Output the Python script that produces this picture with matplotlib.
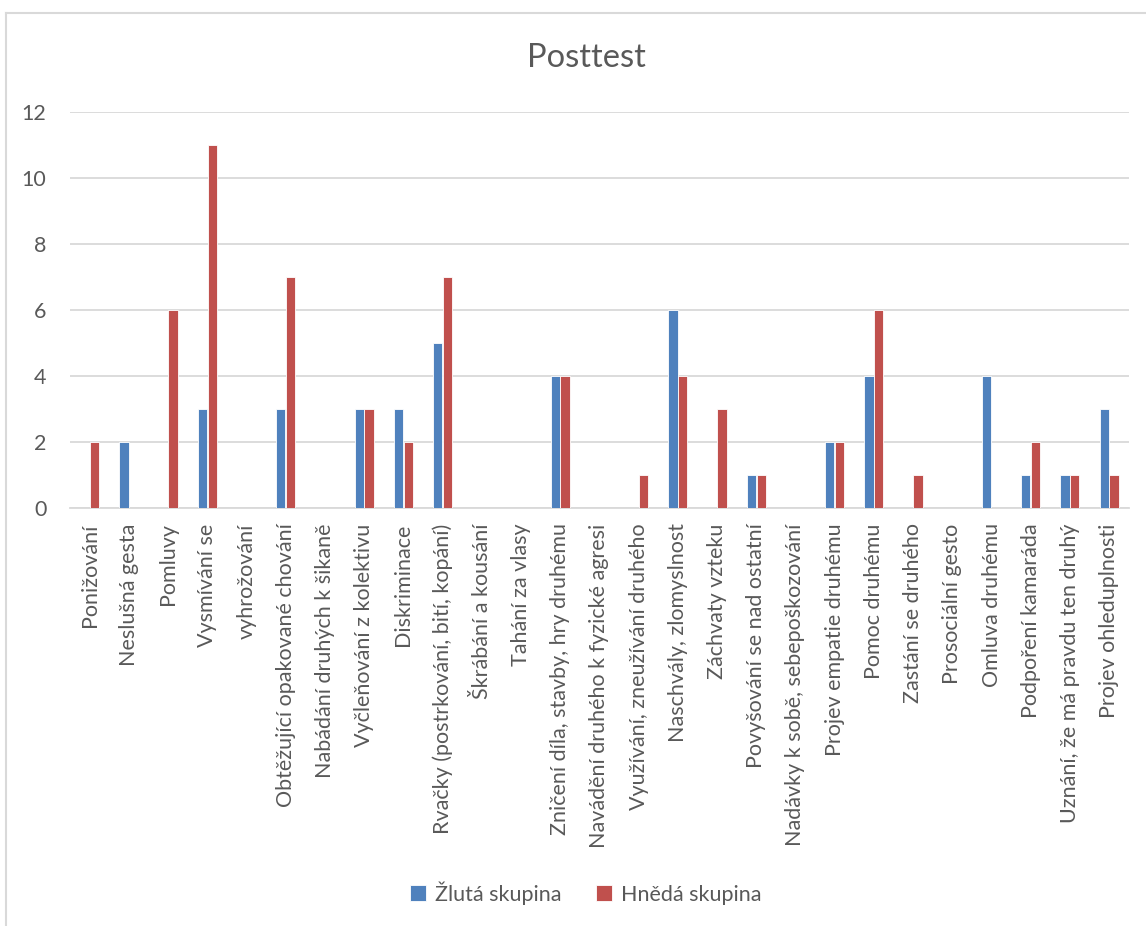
import numpy as np
import matplotlib.pyplot as plt
from matplotlib.lines import Line2D

plt.rcParams['font.family'] = ['Lato', 'DejaVu Sans']

categories = [
    "Ponižování", "Neslušná gesta", "Pomluvy", "Vysmívání se", "vyhrožování",
    "Obtěžující opakované chování", "Nabádání druhých k šikaně",
    "Vyčleňování z kolektivu", "Diskriminace",
    "Rvačky (postrkování, bití, kopání)", "Škrábání a kousání",
    "Tahání za vlasy", "Zničení díla, stavby, hry druhému",
    "Navádění druhého k fyzické agresi", "Využívání, zneužívání druhého",
    "Naschvály, zlomyslnost", "Záchvaty vzteku", "Povyšování se nad ostatní",
    "Nadávky k sobě, sebepoškozování", "Projev empatie druhému",
    "Pomoc druhému", "Zastání se druhého", "Prosociální gesto",
    "Omluva druhému", "Podpoření kamaráda", "Uznání, že má pravdu ten druhý",
    "Projev ohleduplnosti",
]
zluta = [0, 2, 0, 3, 0, 3, 0, 3, 3, 5, 0, 0, 4, 0, 0, 6, 0, 1, 0, 2, 4, 0, 0, 4, 1, 1, 3]
hneda = [2, 0, 6, 11, 0, 7, 0, 3, 2, 7, 0, 0, 4, 0, 1, 4, 3, 1, 0, 2, 6, 1, 0, 0, 2, 1, 1]
series_names = ["Žlutá skupina", "Hnědá skupina"]

text_col = "#595959"
grid_col = "#D9D9D9"

fig = plt.figure(figsize=(11.46, 9.26), dpi=100)
ax = fig.add_axes([0.0611, 0.4514, 0.9239, 0.4277])

x = np.arange(len(categories))
w = 0.235
ax.bar(x - 0.125, zluta, width=w, color="#4F81BD", edgecolor="white",
       linewidth=0.6, label=series_names[0], zorder=3)
ax.bar(x + 0.125, hneda, width=w, color="#C0504D", edgecolor="white",
       linewidth=0.6, label=series_names[1], zorder=3)

ax.set_xlim(-0.5, len(categories) - 0.5)
ax.set_ylim(0, 12)
ax.set_yticks(range(0, 13, 2))
ax.yaxis.grid(True, color=grid_col, linewidth=1.3, zorder=0)
ax.set_axisbelow(True)
for side in ["top", "right", "left"]:
    ax.spines[side].set_visible(False)
ax.spines["bottom"].set_color(grid_col)
ax.spines["bottom"].set_linewidth(1.3)

ax.set_xticks(x)
ax.set_xticklabels(categories, rotation=90, fontsize=15.5, color=text_col)
ax.tick_params(axis="x", length=0, pad=11)
ax.tick_params(axis="y", length=0, pad=17, labelsize=15.5, labelcolor=text_col)

fig.text(0.5115, 0.937, "Posttest", ha="center", va="center",
         fontsize=23.5, color=text_col)

fig.legend(loc="center", bbox_to_anchor=(0.511, 0.0356), ncol=2, frameon=False,
           fontsize=15.5, labelcolor=text_col, handlelength=0.75,
           handleheight=0.75, handletextpad=0.4, columnspacing=1.6)

# light frame on the left and top edges
fig.add_artist(Line2D([6 / 1146, 6 / 1146], [0, 1 - 13 / 926],
                      transform=fig.transFigure, color=grid_col, linewidth=1.5))
fig.add_artist(Line2D([6 / 1146, 1], [1 - 13 / 926, 1 - 13 / 926],
                      transform=fig.transFigure, color=grid_col, linewidth=1.5))

fig.savefig("out.png", dpi=100)
